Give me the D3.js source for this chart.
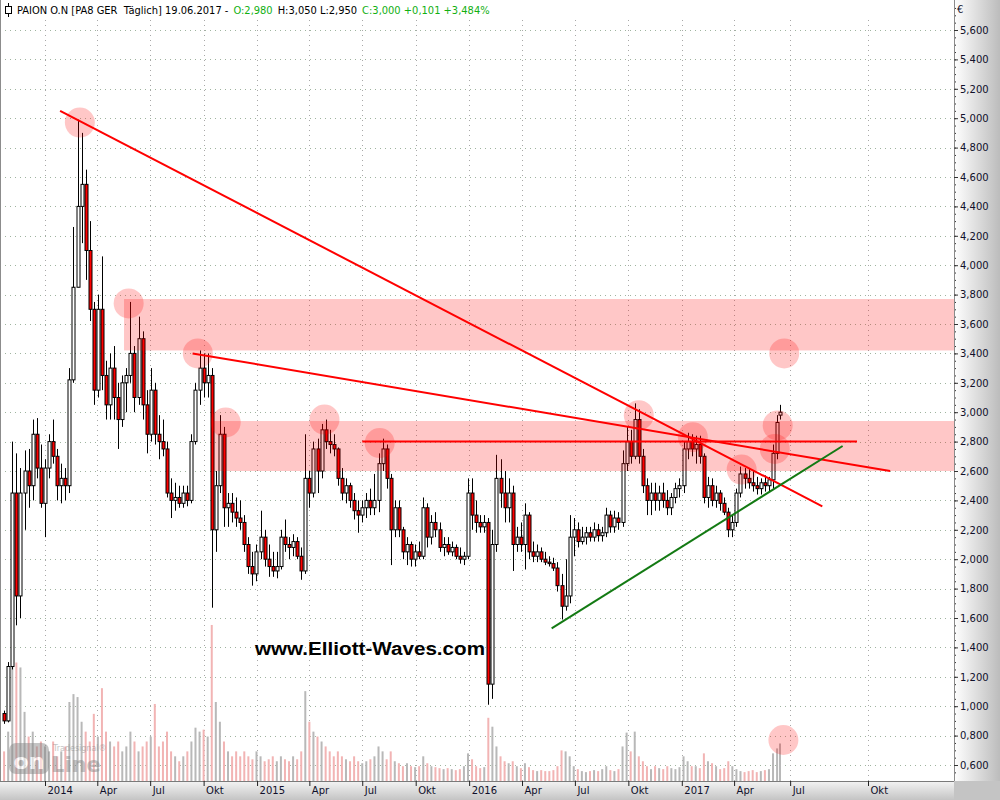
<!DOCTYPE html>
<html><head><meta charset="utf-8">
<script src="https://cdn.jsdelivr.net/npm/d3@7"></script>
<style>body{margin:0;background:#fff}svg{display:block}.pre{white-space:pre}</style>
</head><body><svg id="c" width="1000" height="800"></svg>
<script>
// ---------- DATA (weekly candles) ----------
const firstWeek = "2013-10-21";
const weekOpen = [
0.95,0.90,1.27,2.45,1.75,2.45,2.60,2.50,2.85,2.62,
2.38,2.62,2.80,2.70,2.50,2.55,2.50,3.22,3.85,4.40,
4.55,4.10,3.70,3.15,3.70,3.25,3.05,3.30,3.10,2.95,
3.20,3.25,3.40,3.10,3.50,3.05,2.85,3.15,2.85,2.80,
2.75,2.45,2.40,2.42,2.38,2.45,2.40,2.80,3.15,3.30,
3.20,3.25,2.20,2.50,2.85,2.35,2.38,2.32,2.28,2.25,
2.10,1.95,1.90,2.05,2.15,2.00,1.95,1.92,1.95,2.15,
2.10,2.08,2.12,2.02,1.92,2.55,2.45,2.75,2.60,2.88,
2.80,2.78,2.75,2.55,2.45,2.50,2.40,2.33,2.30,2.35,
2.40,2.35,2.40,2.65,2.75,2.55,2.20,2.35,2.20,2.05,
2.10,2.00,2.05,2.02,2.35,2.15,2.25,2.20,2.08,2.10,
2.05,2.08,2.02,2.00,2.02,2.45,2.30,2.25,2.22,2.25,
1.15,2.10,2.55,2.45,2.35,2.45,2.10,2.15,2.10,2.30,
2.05,2.02,2.05,2.00,1.98,1.97,1.94,1.82,1.68,1.75,
2.15,2.20,2.12,2.15,2.18,2.15,2.20,2.16,2.18,2.30,
2.22,2.28,2.25,2.65,2.80,2.70,2.95,2.70,2.50,2.40,
2.45,2.40,2.45,2.40,2.35,2.42,2.48,2.50,2.75,2.80,
2.75,2.78,2.70,2.42,2.50,2.40,2.45,2.38,2.32,2.20,
2.25,2.45,2.58,2.55,2.52,2.50,2.48,2.52,2.50,2.54,
2.72,2.98];
const weekHigh = [
0.97,1.30,2.80,2.72,2.62,2.74,2.75,2.95,2.96,2.78,
2.68,2.85,2.95,2.75,2.65,2.62,3.30,4.26,4.99,4.90,
4.65,4.30,3.75,3.80,4.06,3.35,3.40,3.45,3.20,3.25,
3.30,3.75,3.45,3.65,3.55,3.15,3.30,3.20,2.98,2.95,
2.80,2.55,2.52,2.50,2.50,2.50,2.85,3.20,3.42,3.40,
3.40,3.30,2.60,2.98,2.90,2.45,2.45,2.42,2.40,2.30,
2.15,2.05,2.10,2.33,2.20,2.10,2.05,2.05,2.20,2.27,
2.15,2.17,2.15,2.08,2.85,2.60,2.80,2.82,2.92,2.95,
2.88,2.85,2.76,2.62,2.55,2.52,2.45,2.40,2.40,2.45,
2.48,2.58,2.72,2.82,2.78,2.58,2.40,2.40,2.22,2.15,
2.12,2.10,2.12,2.42,2.38,2.30,2.32,2.25,2.15,2.15,
2.12,2.10,2.08,2.05,2.55,2.55,2.40,2.30,2.30,2.28,
2.20,2.71,2.68,2.60,2.55,2.50,2.22,2.25,2.38,2.32,
2.12,2.10,2.08,2.05,2.02,2.01,1.98,1.90,2.00,2.30,
2.28,2.25,2.22,2.22,2.22,2.25,2.24,2.22,2.35,2.33,
2.33,2.32,2.74,2.90,2.88,3.06,3.02,2.75,2.55,2.52,
2.52,2.50,2.52,2.47,2.45,2.52,2.55,2.80,2.86,2.85,
2.84,2.84,2.72,2.56,2.55,2.50,2.47,2.42,2.35,2.30,
2.48,2.63,2.62,2.62,2.60,2.56,2.55,2.57,2.56,2.78,
2.98,3.05];
const weekLow = [
0.88,0.89,1.25,1.55,1.60,2.20,2.35,2.40,2.55,2.35,
2.15,2.55,2.65,2.40,2.38,2.40,2.45,3.20,3.85,4.15,
3.90,3.62,3.05,3.10,3.15,2.95,2.95,2.95,2.75,2.90,
3.00,3.20,3.00,3.05,2.95,2.72,2.80,2.78,2.68,2.70,
2.42,2.28,2.33,2.35,2.35,2.36,2.38,2.78,3.05,3.10,
3.10,1.67,2.05,2.45,2.22,2.22,2.25,2.22,2.20,2.05,
1.90,1.82,1.85,2.00,1.95,1.88,1.88,1.87,1.93,2.05,
2.00,2.02,2.00,1.86,1.90,2.35,2.42,2.45,2.55,2.75,
2.72,2.70,2.50,2.40,2.38,2.35,2.27,2.18,2.25,2.28,
2.30,2.30,2.32,2.60,2.48,1.96,2.15,2.15,2.00,1.96,
1.95,1.95,2.00,2.00,2.08,2.10,2.15,2.05,2.02,2.03,
2.02,2.00,1.97,1.96,2.00,2.20,2.18,2.18,2.18,1.01,
1.05,2.05,2.35,2.25,2.25,1.92,2.05,2.05,1.93,2.00,
1.98,1.98,1.98,1.96,1.95,1.92,1.78,1.59,1.65,1.70,
2.02,2.08,2.10,2.10,2.12,2.12,2.12,2.12,2.15,2.18,
2.18,2.20,2.22,2.60,2.65,2.68,2.65,2.45,2.30,2.30,
2.33,2.33,2.35,2.30,2.30,2.38,2.42,2.45,2.68,2.70,
2.65,2.65,2.38,2.35,2.36,2.35,2.33,2.30,2.15,2.15,
2.22,2.42,2.48,2.48,2.46,2.44,2.44,2.46,2.46,2.48,
2.68,2.95];
const weekClose = [
0.90,1.27,2.45,1.75,2.45,2.60,2.50,2.85,2.62,2.38,
2.62,2.80,2.70,2.50,2.55,2.50,3.22,3.85,4.40,4.55,
4.10,3.70,3.15,3.70,3.25,3.05,3.30,3.10,2.95,3.20,
3.25,3.40,3.10,3.50,3.05,2.85,3.15,2.85,2.80,2.75,
2.45,2.40,2.42,2.38,2.45,2.40,2.80,3.15,3.30,3.20,
3.25,2.20,2.50,2.85,2.35,2.38,2.32,2.28,2.25,2.10,
1.95,1.90,2.05,2.15,2.00,1.95,1.92,1.95,2.15,2.10,
2.08,2.12,2.02,1.92,2.55,2.45,2.75,2.60,2.88,2.80,
2.78,2.75,2.55,2.45,2.50,2.40,2.33,2.30,2.35,2.40,
2.35,2.40,2.65,2.75,2.55,2.20,2.35,2.20,2.05,2.10,
2.00,2.05,2.02,2.35,2.15,2.25,2.20,2.08,2.10,2.05,
2.08,2.02,2.00,2.02,2.45,2.30,2.25,2.22,2.25,1.15,
2.10,2.55,2.45,2.35,2.45,2.10,2.15,2.10,2.30,2.05,
2.02,2.05,2.00,1.98,1.97,1.94,1.82,1.68,1.75,2.15,
2.20,2.12,2.15,2.18,2.15,2.20,2.16,2.18,2.30,2.22,
2.28,2.25,2.65,2.80,2.70,2.95,2.70,2.50,2.40,2.45,
2.40,2.45,2.40,2.35,2.42,2.48,2.50,2.75,2.80,2.75,
2.78,2.70,2.42,2.50,2.40,2.45,2.38,2.32,2.20,2.25,
2.45,2.58,2.55,2.52,2.50,2.48,2.52,2.50,2.54,2.72,
2.93,3.00];
const weekVolume = [
300,500,1200,1200,1150,700,450,500,350,400,
350,300,400,250,300,350,800,880,850,600,
500,400,680,450,940,500,400,350,400,300,
350,500,400,300,350,400,450,780,350,400,
500,300,250,200,250,300,400,540,500,520,
450,1580,800,600,400,300,250,300,250,300,
250,220,300,250,200,220,250,200,250,220,
200,250,220,300,910,600,500,450,400,350,
300,250,300,250,220,200,250,200,180,200,
220,250,350,300,220,300,200,180,150,180,
150,140,150,250,180,150,140,130,120,130,
120,110,120,150,280,220,150,130,140,640,
550,350,250,200,180,200,150,130,180,140,
110,100,110,100,100,110,150,310,300,250,
150,120,100,90,100,110,100,120,150,110,
100,120,350,490,300,500,250,200,150,120,
150,130,120,150,130,120,140,250,200,150,
150,130,280,200,180,150,120,130,200,150,
120,100,90,100,110,90,100,110,120,280,
330,380];

const priceTicks = [0.6,0.8,1.0,1.2,1.4,1.6,1.8,2.0,2.2,2.4,2.6,2.8,3.0,3.2,3.4,3.6,3.8,4.0,4.2,4.4,4.6,4.8,5.0,5.2,5.4,5.6];
const timeTicks = ["2014-01-01","2014-04-01","2014-07-01","2014-10-01","2015-01-01","2015-04-01","2015-07-01","2015-10-01",
                   "2016-01-01","2016-04-01","2016-07-01","2016-10-01","2017-01-01","2017-04-01","2017-07-01","2017-10-01"];
const timeTickLabels = ["2014","Apr","Jul","Okt","2015","Apr","Jul","Okt","2016","Apr","Jul","Okt","2017","Apr","Jul","Okt"];

// annotation zones / lines / circles (date, price)
const bandStart = ["2014-05-17","2014-10-18"];
const bandHigh = [3.77, 2.94];
const bandLow = [3.42, 2.60];
const redLineStart = [["2014-01-27",5.05],["2014-09-12",3.40],["2015-07-01",2.80]];
const redLineEnd   = [["2017-08-08",2.36],["2017-10-27",2.60],["2017-09-18",2.80]];
const greenLineStart = ["2016-05-22",1.53];
const greenLineEnd = ["2017-09-01",2.77];
const circleDates = ["2014-03-02","2014-05-25","2014-09-21","2014-11-08","2015-04-27","2015-07-31","2016-10-19","2017-01-20","2017-04-14","2017-06-15","2017-06-10","2017-06-24","2017-06-23"];
const circlePrices = [4.97,3.74,3.40,2.93,2.95,2.79,2.98,2.83,2.61,2.91,2.75,3.40,0.77];

const headerParts = ["PAION O.N [PA8 GER  Täglich] 19.06.2017 -","O:2,980","H:3,050 L:2,950","C:3,000 +0,101 +3,484%"];
const headerColors = ["#000","#12b012","#000","#12b012"];

// ---------- CHART ----------
const parse = d3.timeParse("%Y-%m-%d");
const svg = d3.select("#c");
const plotR = 954, plotB = 781, plotT = 20;
const x = d3.scaleTime()
  .domain(["2013-10-16","2014-01-01","2017-06-19","2017-10-01","2018-01-10"].map(parse))
  .range([0,45,780,868,954]);
const y = d3.scaleLinear().domain([0.6,5.6]).range([765,30]);
const vy = d3.scaleLinear().domain([0,1600]).range([plotB,623]);

const weeks = weekOpen.map((o,i)=>({
  date: d3.timeDay.offset(parse(firstWeek), i*7 + (i===weekOpen.length-1?0:2)),
  o, h: weekHigh[i], l: weekLow[i], c: weekClose[i], v: weekVolume[i]
}));

const defs = svg.append("defs");
defs.append("clipPath").attr("id","plot").append("rect").attr("x",0).attr("y",0).attr("width",plotR).attr("height",plotB);
const gR = defs.append("linearGradient").attr("id","gr").attr("x1",0).attr("x2",1).attr("y1",0).attr("y2",0);
gR.append("stop").attr("offset","0%").attr("stop-color","#ffffff");
gR.append("stop").attr("offset","100%").attr("stop-color","#bcbcbc");
const gB = defs.append("linearGradient").attr("id","gb").attr("x1",0).attr("x2",0).attr("y1",0).attr("y2",1);
gB.append("stop").attr("offset","0%").attr("stop-color","#f4f4f4");
gB.append("stop").attr("offset","100%").attr("stop-color","#c4c4c4");

svg.append("rect").attr("width",1000).attr("height",800).attr("fill","#fff");

const plot = svg.append("g").attr("clip-path","url(#plot)");

// grid
plot.append("g").selectAll("line").data(priceTicks).join("line")
  .attr("x1",0).attr("x2",plotR)
  .attr("y1",d=>Math.round(y(d))+0.5).attr("y2",d=>Math.round(y(d))+0.5)
  .attr("stroke","#9fb49f").attr("stroke-dasharray","1,4");
plot.append("g").selectAll("line").data(timeTicks).join("line")
  .attr("x1",d=>Math.round(x(parse(d)))+0.5).attr("x2",d=>Math.round(x(parse(d)))+0.5)
  .attr("y1",plotT).attr("y2",plotB)
  .attr("stroke","#a8a8a8").attr("stroke-dasharray","1,4");

// volume
plot.append("g").selectAll("rect").data(weeks).join("rect")
  .attr("x",d=>x(d.date)-1).attr("width",2)
  .attr("y",d=>vy(d.v)).attr("height",d=>plotB-vy(d.v))
  .attr("fill",d=>d.c<d.o?"#f2b4b4":"#b8b8b8");

// watermark logo
const logo = svg.append("g").attr("opacity",0.5);
logo.append("rect").attr("x",9).attr("y",743).attr("width",40).attr("height",31).attr("rx",7)
  .attr("fill","#8a8a8a");
logo.append("text").attr("x",29).attr("y",769).attr("text-anchor","middle")
  .attr("font-family","DejaVu Sans").attr("font-weight","bold").attr("font-size",22)
  .attr("fill","#fff").text("on");
logo.append("text").attr("x",51).attr("y",772)
  .attr("font-family","DejaVu Sans").attr("font-weight","bold").attr("font-size",21)
  .attr("fill","#8a8a8a").text("Line");
logo.append("text").attr("x",53).attr("y",751)
  .attr("font-family","DejaVu Sans").attr("font-size",8)
  .attr("fill","#8a8a8a").text("Tradesignal®");

// candles
const cg = plot.append("g");
cg.selectAll("line").data(weeks).join("line")
  .attr("x1",d=>Math.round(x(d.date))+0.5).attr("x2",d=>Math.round(x(d.date))+0.5)
  .attr("y1",d=>y(d.h)).attr("y2",d=>y(d.l))
  .attr("stroke","#000").attr("stroke-width",1);
cg.selectAll("rect").data(weeks).join("rect")
  .attr("x",d=>Math.round(x(d.date))-1).attr("width",3)
  .attr("y",d=>y(Math.max(d.o,d.c))).attr("height",d=>Math.max(1,Math.abs(y(d.o)-y(d.c))))
  .attr("fill",d=>d.c<d.o?"#ff0000":"#ffffff")
  .attr("stroke","#000").attr("stroke-width",1);

// zones
const zoneFill = "rgba(255,0,0,0.22)";
plot.append("g").selectAll("rect").data(bandStart).join("rect")
  .attr("x",d=>x(parse(d))).attr("width",d=>plotR-x(parse(d)))
  .attr("y",(d,i)=>y(bandHigh[i])).attr("height",(d,i)=>y(bandLow[i])-y(bandHigh[i]))
  .attr("fill",zoneFill);
plot.append("g").selectAll("circle").data(circleDates).join("circle")
  .attr("cx",d=>x(parse(d))).attr("cy",(d,i)=>y(circlePrices[i])).attr("r",15)
  .attr("fill",zoneFill);

// trend lines
plot.append("g").selectAll("line").data(redLineStart).join("line")
  .attr("x1",d=>x(parse(d[0]))).attr("y1",d=>y(d[1]))
  .attr("x2",(d,i)=>x(parse(redLineEnd[i][0]))).attr("y2",(d,i)=>y(redLineEnd[i][1]))
  .attr("stroke","#ff0000").attr("stroke-width",2);
plot.append("line")
  .attr("x1",x(parse(greenLineStart[0]))).attr("y1",y(greenLineStart[1]))
  .attr("x2",x(parse(greenLineEnd[0]))).attr("y2",y(greenLineEnd[1]))
  .attr("stroke","#137a13").attr("stroke-width",2);

// watermark text
svg.append("text").attr("x",370).attr("y",655).attr("text-anchor","middle")
  .attr("font-family","Liberation Sans, Arial").attr("font-weight","bold").attr("font-size",18)
  .attr("textLength",230).attr("lengthAdjust","spacingAndGlyphs")
  .attr("fill","#000").text("www.Elliott-Waves.com");

// left border
svg.append("line").attr("x1",0.5).attr("x2",0.5).attr("y1",0).attr("y2",plotB).attr("stroke","#8c8c8c");

// right axis panel
svg.append("rect").attr("x",plotR).attr("y",0).attr("width",1000-plotR).attr("height",plotB).attr("fill","url(#gr)");
svg.append("rect").attr("x",0).attr("y",plotB).attr("width",1000).attr("height",800-plotB).attr("fill","url(#gb)");
svg.append("rect").attr("x",plotR).attr("y",plotB).attr("width",1000-plotR).attr("height",800-plotB).attr("fill","#c4c4c4");

const fmt = v => d3.format(".3f")(v).replace(".",",");
const minorTicks = d3.range(0.55, 5.76, 0.05).map(v=>+v.toFixed(2));
const minorAx = svg.append("g").attr("transform",`translate(${plotR},0)`)
  .call(d3.axisRight(y).tickValues(minorTicks).tickSize(2).tickFormat(""));
minorAx.select(".domain").remove();
minorAx.selectAll("line").attr("stroke","#333");
minorAx.selectAll("text").remove();
const rAx = svg.append("g").attr("transform",`translate(${plotR},0)`)
  .call(d3.axisRight(y).tickValues(priceTicks).tickSize(4).tickPadding(2).tickFormat(fmt));
rAx.select(".domain").attr("d",`M0.5,0V${plotB}`).attr("stroke","#8a8a8a");
rAx.selectAll("line").attr("stroke","#333");
rAx.selectAll("text").attr("font-family","DejaVu Sans").attr("font-size",10).attr("fill","#10102a");
svg.append("text").attr("x",957).attr("y",13).attr("font-family","DejaVu Sans").attr("font-size",10)
  .attr("fill","#10102a").text("€");

// bottom axis
const bAx = svg.append("g").attr("transform",`translate(0,${plotB})`)
  .call(d3.axisBottom(x).tickValues(timeTicks.map(parse)).tickSize(5).tickFormat((d,i)=>timeTickLabels[i]));
bAx.select(".domain").attr("d",`M0,0.5H${plotR}`).attr("stroke","#7a7a7a");
bAx.selectAll("line").attr("stroke","#222");
bAx.selectAll("text").attr("text-anchor","start").attr("x",2).attr("y",6)
  .attr("font-family","DejaVu Sans").attr("font-size",10).attr("fill","#10102a");

// header: separate text pieces laid out one after another
const hd = svg.append("g");
hd.append("line").attr("x1",8.5).attr("x2",8.5).attr("y1",3).attr("y2",17).attr("stroke","#000");
hd.append("rect").attr("x",5.5).attr("y",6.5).attr("width",6).attr("height",7).attr("fill","#fff").attr("stroke","#000");
let hx = 17;
headerParts.forEach((p,i)=>{
  const t = hd.append("text").attr("class","pre").attr("x",hx).attr("y",14)
    .attr("font-family","DejaVu Sans Condensed, DejaVu Sans").attr("font-size",11)
    .attr("fill",headerColors[i]).text(p);
  hx += t.node().getComputedTextLength() + 5;
});
</script></body></html>
